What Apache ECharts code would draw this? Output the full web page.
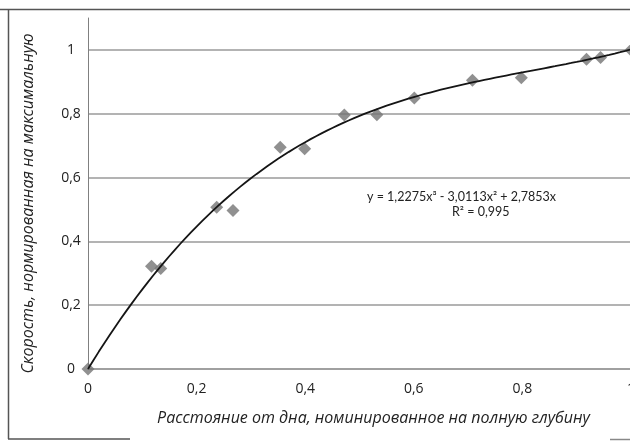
<!DOCTYPE html>
<html><head><meta charset="utf-8">
<script src="https://cdn.jsdelivr.net/npm/echarts@6/dist/echarts.min.js"></script>
<style>html,body{margin:0;padding:0;background:#fff}#c{width:630px;height:441px}</style>
</head><body><div id="c"></div>
<script>
// Measured points (relative distance from bottom, normalized velocity)
const xValues = [0, 0.117, 0.134, 0.237, 0.267, 0.354, 0.399, 0.472, 0.532, 0.601, 0.708, 0.798, 0.918, 0.944, 1];
const yValues = [0, 0.322, 0.315, 0.507, 0.497, 0.695, 0.690, 0.796, 0.797, 0.849, 0.905, 0.913, 0.971, 0.976, 1];
// Trend line coefficients as printed on the chart: a·x³ + b·x² + c·x
const trendCoefficients = [1.2275, -3.0113, 2.7853];
const equationText = 'y = 1,2275x³ - 3,0113x² + 2,7853x';
const r2Text = 'R² = 0,995';
const xAxisTitle = 'Расстояние от дна, номинированное на полную глубину';
const yAxisTitle = 'Скорость, нормированная на максимальную';

const points = xValues.map((x, i) => [x, yValues[i]]);
const trend = [];
for (let i = 0; i <= 100; i++) {
  const x = i / 100;
  const [a, b, c] = trendCoefficients;
  trend.push([x, a * x * x * x + b * x * x + c * x]);
}
const fmt = v => (Math.round(v * 10) / 10).toString().replace('.', ',');
const FONT = 'Open Sans';

const chart = echarts.init(document.getElementById('c'), null, {renderer: 'canvas'});
chart.setOption({
  backgroundColor: '#fff',
  animation: false,
  grid: {left: 88, top: 18, bottom: 72, width: 543, containLabel: false, outerBoundsMode: 'none'},
  xAxis: {
    type: 'value', min: 0, max: 1, interval: 0.2,
    name: xAxisTitle, nameLocation: 'middle', nameGap: 41,
    nameTextStyle: {fontFamily: FONT, fontStyle: 'italic', fontSize: 16, color: '#222', padding: [0, 0, 0, 28]},
    axisLine: {show: true, lineStyle: {color: '#a0a0a0', width: 2}},
    axisTick: {show: false},
    splitLine: {show: false},
    axisLabel: {fontFamily: FONT, fontSize: 14, color: '#222', margin: 13, formatter: fmt}
  },
  yAxis: {
    type: 'value', min: 0, max: 1.1, interval: 0.2,
    name: yAxisTitle, nameLocation: 'middle', nameGap: 52,
    nameTextStyle: {fontFamily: FONT, fontStyle: 'italic', fontSize: 16, color: '#222', padding: [0, 20, 0, 0]},
    axisLine: {show: true, lineStyle: {color: '#808080', width: 1}},
    axisTick: {show: false},
    splitLine: {show: true, lineStyle: {color: ['#9a9a9a', '#9a9a9a', '#9a9a9a', '#9a9a9a', '#9a9a9a', '#9a9a9a', 'rgba(0,0,0,0)'], width: 1.5}},
    axisLabel: {fontFamily: FONT, fontSize: 14, color: '#222', margin: 17, align: 'center',
      formatter: v => v > 1.05 ? '' : fmt(v)}
  },
  series: [
    {type: 'scatter', data: points, symbol: 'diamond', symbolSize: 13, clip: false,
     itemStyle: {color: '#747474'}, z: 2},
    {type: 'line', data: trend, showSymbol: false, smooth: false,
     lineStyle: {color: '#151515', width: 1.8}, z: 3}
  ],
  graphic: [
    {type: 'line', shape: {x1: 0, y1: 9.5, x2: 630, y2: 9.5}, style: {stroke: '#555', lineWidth: 1.5}},
    {type: 'line', shape: {x1: 8.5, y1: 9.5, x2: 8.5, y2: 439}, style: {stroke: '#555', lineWidth: 1.5}},
    {type: 'line', shape: {x1: 8, y1: 439, x2: 130, y2: 439}, style: {stroke: '#555', lineWidth: 1.5}},
    {type: 'line', shape: {x1: 610, y1: 439.5, x2: 630, y2: 439.5}, style: {stroke: '#888', lineWidth: 1.5}},
    {type: 'text', left: 367, top: 190, style: {text: equationText, font: '12.5px Lato', fill: '#222'}},
    {type: 'text', left: 452, top: 205, style: {text: r2Text, font: '12.5px Lato', fill: '#222'}}
  ]
});
</script>
</body></html>
